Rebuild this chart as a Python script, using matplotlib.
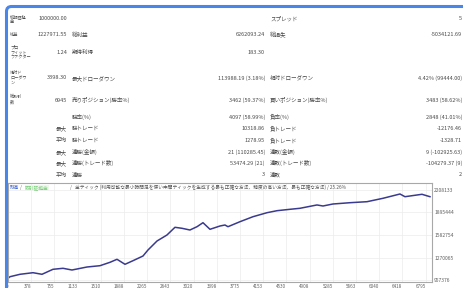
import matplotlib
matplotlib.use('Agg')
import matplotlib.pyplot as plt
from matplotlib.patches import FancyBboxPatch
from matplotlib.transforms import IdentityTransform

plt.rcParams['font.family'] = ['Noto Sans CJK JP', 'DejaVu Sans']

W, H = 463, 288

# ---------------- report table ----------------
col0_labels = ["初期証拠\n金", "純益", "プロ\nフィット\nファクター", "絶対ド\nローダウ\nン", "総取引\n数",
               "", "", "", "", "", ""]
col1_values = ["1000000.00", "1227971.55", "1.24", "3398.30", "6945",
               "", "最大", "平均", "最大", "最大", "平均"]
col2_labels = ["", "総利益", "期待利得", "最大ドローダウン", "売りポジション(勝率%)",
               "勝率(%)", "勝トレード", "勝トレード", "連勝(金額)", "連勝(トレード数)", "連勝"]
col2_values = ["", "6262093.24", "183.30", "113988.19 (3.18%)", "3462 (59.37%)",
               "4097 (58.99%)", "10318.86", "1278.95", "21 (110285.45)", "53474.29 (21)", "3"]
col3_labels = ["スプレッド", "総損失", "", "相対ドローダウン", "買いポジション(勝率%)",
               "負率(%)", "負トレード", "負トレード", "連敗(金額)", "連敗(トレード数)", "連敗"]
col3_values = ["5", "-5034121.69", "", "4.42% (99444.00)", "3483 (58.62%)",
               "2848 (41.01%)", "-12176.46", "-1328.71", "9 (-102925.63)", "-104279.37 (9)", "2"]

# ---------------- balance chart ----------------
trade_no = [16, 33, 195, 407, 553, 732, 895, 1041, 1286, 1497, 1660, 1774, 1904, 2034,
            2197, 2278, 2425, 2587, 2717, 2831, 2961, 3076, 3173, 3287, 3450, 3531, 3580,
            3775, 3987, 4215, 4377, 4589, 4751, 5028, 5126, 5288, 5565, 5842, 6102, 6379,
            6460, 6655, 6737, 6867]
balance = [992120, 1003237, 1036590, 1058830, 1036590, 1106080, 1119980, 1096350, 1138040,
           1156110, 1203360, 1245050, 1175560, 1225590, 1290910, 1374290, 1499370, 1582750,
           1689760, 1675870, 1652240, 1698100, 1753690, 1661970, 1707820, 1721710, 1698100,
           1767590, 1837070, 1892660, 1920460, 1939910, 1953810, 2000150, 1985810, 2013530,
           2031600, 2045500, 2092750, 2152520, 2114990, 2138630, 2148360, 2114990]
y_ticks = [957376, 1270065, 1582754, 1895444, 2208133]
x_tick_labels = ["0", "378", "755", "1133", "1510", "1888", "2265", "2643", "3020", "3398",
                 "3775", "4153", "4530", "4908", "5285", "5663", "6040", "6418", "6795"]
legend_main = ("全ティック (利用可能な最小時間足を使い中間ティックを生成する最も正確な方法、"
               "精度の高い方法、最も正確な方法) / 25.26%")

fig = plt.figure(figsize=(W / 100, H / 100), dpi=100)
fig.patch.set_facecolor('white')


def T(x, y, s, **kw):
    kw.setdefault('va', 'center')
    kw.setdefault('color', '#4a4a4a')
    fig.text(x / W, 1 - y / H, s, **kw)


row_y = [19, 35, 52, 78, 100, 117, 128, 140, 152, 163, 175]
for i, y in enumerate(row_y):
    if col0_labels[i]:
        T(10, y, col0_labels[i], fontsize=3.0, ha='left', linespacing=1.35)
    if col1_values[i]:
        T(67, y, col1_values[i], fontsize=4.0, ha='right')
    if col2_labels[i]:
        T(72, y, col2_labels[i], fontsize=4.0, ha='left')
    if col2_values[i]:
        T(265, y, col2_values[i], fontsize=4.0, ha='right')
    if col3_labels[i]:
        T(270, y, col3_labels[i], fontsize=4.0, ha='left')
    if col3_values[i]:
        T(462, y, col3_values[i], fontsize=4.0, ha='right')

# chart axes
ax = fig.add_axes([8 / W, 1 - 282 / H, (432 - 8) / W, (282 - 183) / H])
px_val = (y_ticks[-1] - y_ticks[0]) / 90.0
ax.set_ylim(y_ticks[0] - 2 * px_val, y_ticks[-1] + 7 * px_val)
ax.set_xlim(0, 6900)
ax.plot(trade_no, balance, color='#3a3a8e', lw=1.1, solid_joinstyle='round')

x_ticks = [int(v) for v in x_tick_labels]
ax.set_xticks(x_ticks)
ax.set_xticklabels(x_tick_labels, fontsize=3.3, color='#606060', ha='right')
ax.set_yticks(y_ticks)
ax.set_yticklabels([str(v) for v in y_ticks], fontsize=3.6, color='#606060')
ax.yaxis.tick_right()
ax.tick_params(axis='both', length=0, pad=1.5)
ax.grid(True, color='#ececec', lw=0.5)
for s in ax.spines.values():
    s.set_color('#a8a8a8')
    s.set_linewidth(0.8)

# legend line in the chart
ly = 0.955
ax.text(0.005, ly, "残高", transform=ax.transAxes, fontsize=3.4, color='#3a5fcd', va='center')
ax.text(0.028, ly, "/", transform=ax.transAxes, fontsize=3.4, color='#707070', va='center')
ax.text(0.040, ly, "取引証拠金", transform=ax.transAxes, fontsize=3.4, color='#7ccd7c', va='center',
        bbox=dict(facecolor='#eef8ea', edgecolor='none', pad=0.3))
ax.text(0.145, ly, "/", transform=ax.transAxes, fontsize=3.4, color='#707070', va='center')
ax.text(0.158, ly, legend_main, transform=ax.transAxes, fontsize=3.4, color='#555555', va='center')

# blue window border (left and top)
border = FancyBboxPatch((6.5, -20), 520, 288 - 6.5 + 20,
                        boxstyle="round,pad=0,rounding_size=5",
                        fill=False, edgecolor='#4a86e8', lw=2.2,
                        transform=IdentityTransform())
fig.add_artist(border)

fig.savefig('out.png', dpi=100)
